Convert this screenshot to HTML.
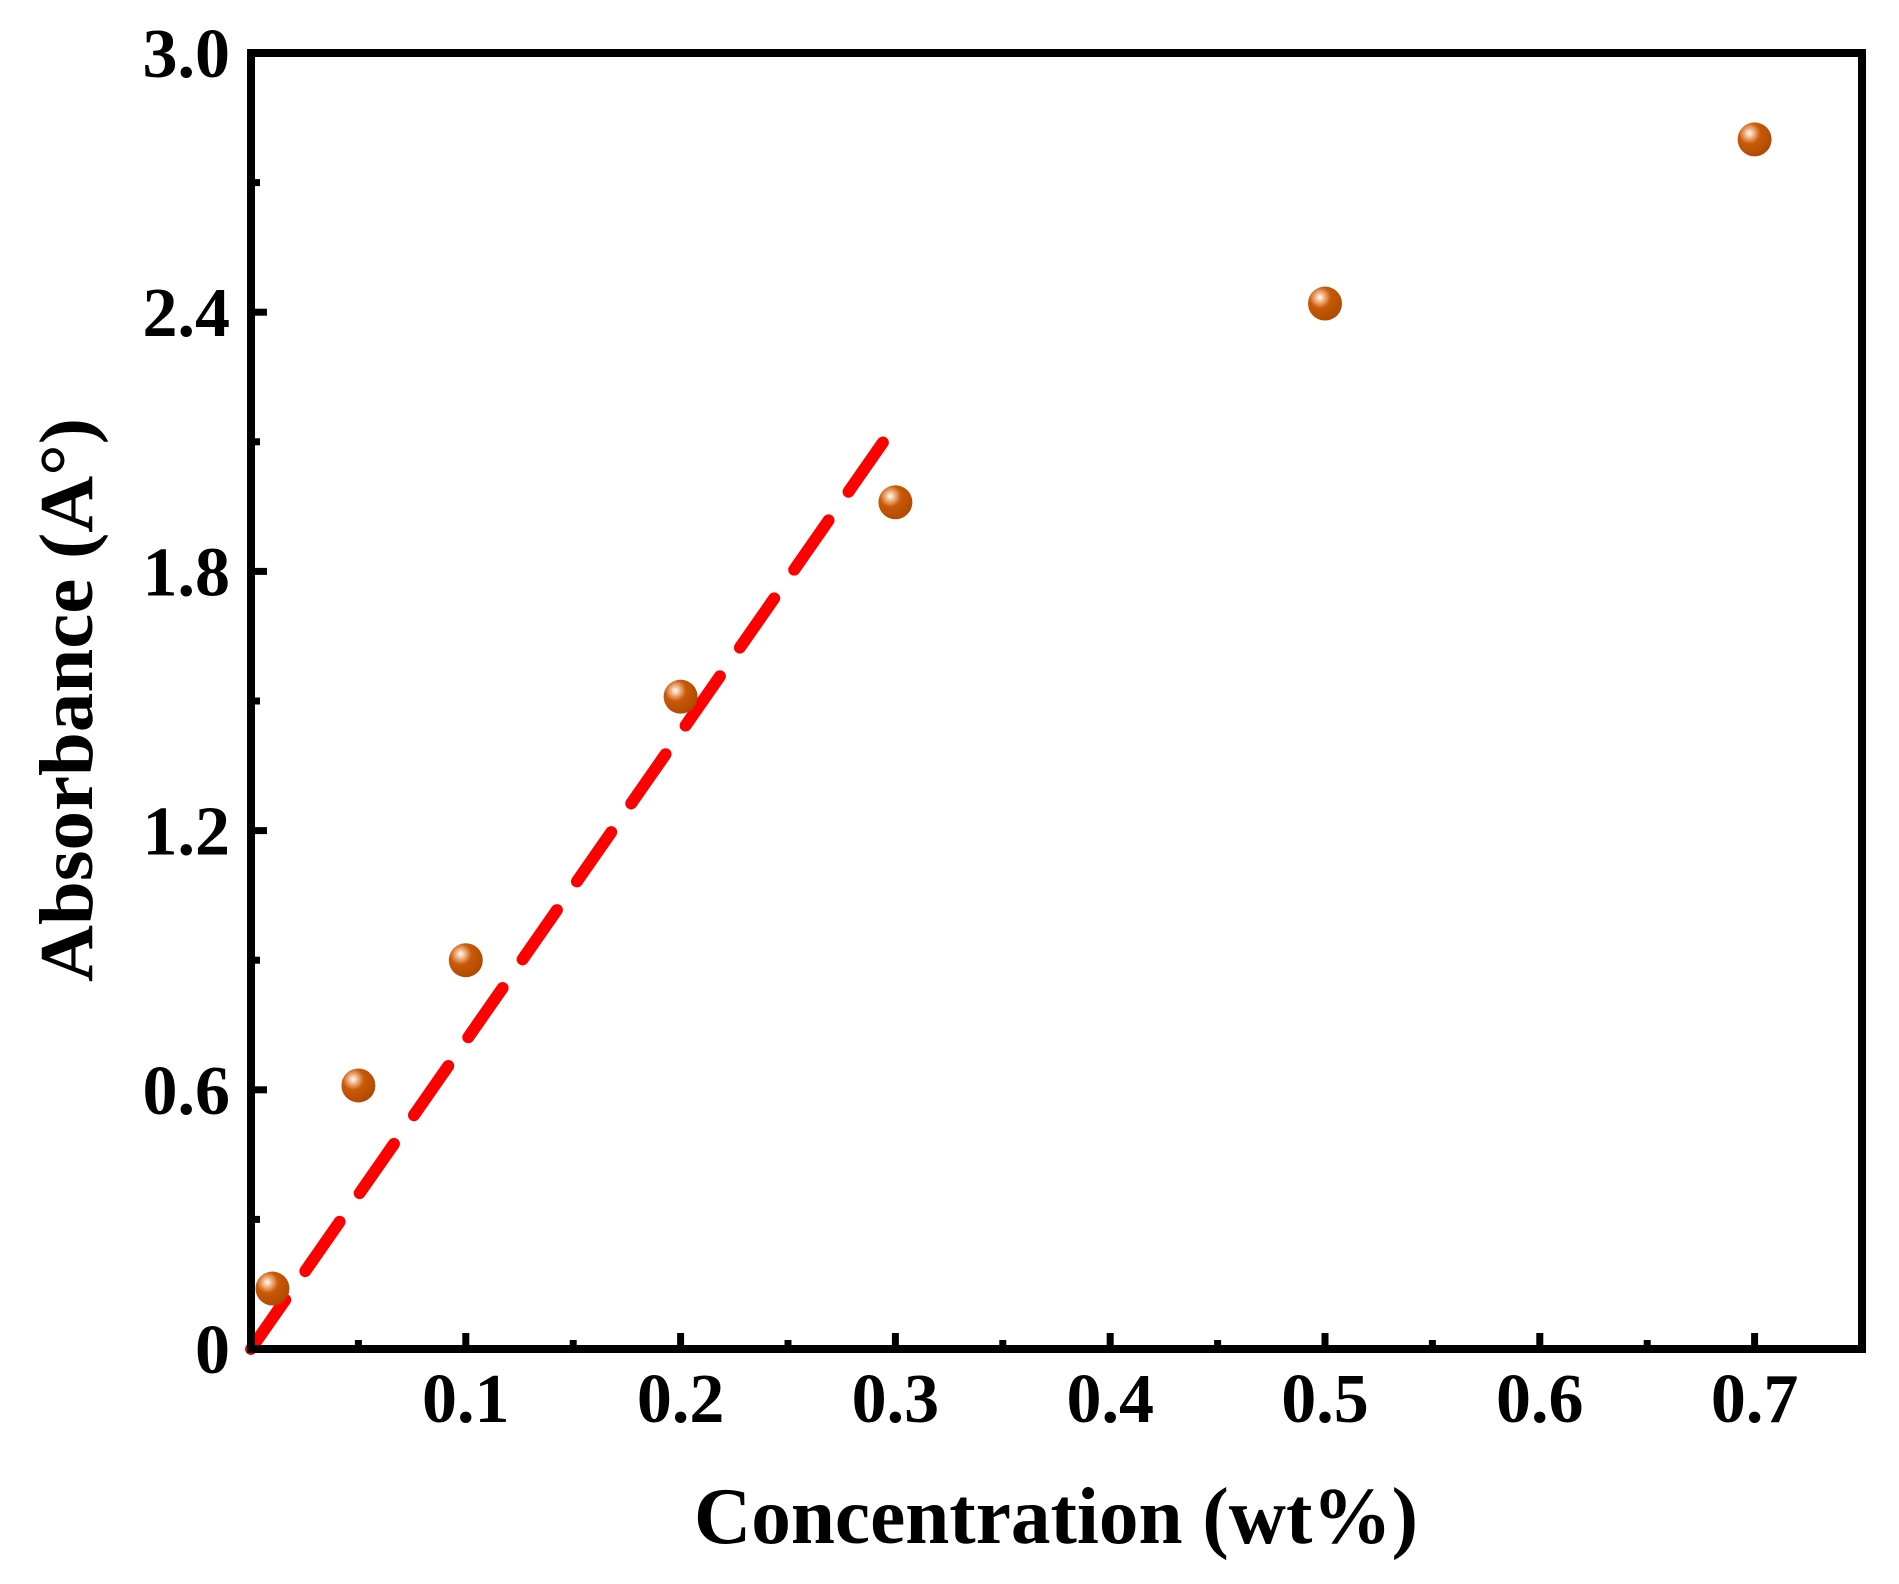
<!DOCTYPE html>
<html><head><meta charset="utf-8"><style>
html,body{margin:0;padding:0;background:#fff;}
svg{display:block;}
text{font-family:"Liberation Serif",serif;font-weight:bold;fill:#000;}
</style></head><body>
<svg id="chart" width="1899" height="1584" viewBox="0 0 1899 1584" xmlns="http://www.w3.org/2000/svg">
<defs>
<radialGradient id="ball" cx="0.35" cy="0.32" r="0.7">
<stop offset="0" stop-color="#ffffff"/>
<stop offset="0.2" stop-color="#f0b080"/>
<stop offset="0.45" stop-color="#c85a08"/>
<stop offset="1" stop-color="#b04a00"/>
</radialGradient>
</defs>
<g id="plot"></g>
</svg>
<script>
const concentrations = [0.01, 0.05, 0.1, 0.2, 0.3, 0.5, 0.7];
const absorbance = [0.14, 0.61, 0.90, 1.51, 1.96, 2.42, 2.80];
const fitX = [0, 0.3];
const fitY = [0, 2.14];
const xTicks = [0.1, 0.2, 0.3, 0.4, 0.5, 0.6, 0.7];
const xTickLabels = ["0.1","0.2","0.3","0.4","0.5","0.6","0.7"];
const yTicks = [0, 0.6, 1.2, 1.8, 2.4, 3.0];
const yTickLabels = ["0","0.6","1.2","1.8","2.4","3.0"];

const L=251, R=1862, T=53, B=1349;
const xMin=0, xMax=0.75, yMin=0, yMax=3.0;
const sx = v => L + (v - xMin) / (xMax - xMin) * (R - L);
const sy = v => B - (v - yMin) / (yMax - yMin) * (B - T);
const NS = "http://www.w3.org/2000/svg";
const g = document.getElementById('plot');
function mk(tag, attrs){ const e=document.createElementNS(NS,tag); for(const k in attrs) e.setAttribute(k,attrs[k]); g.appendChild(e); return e; }

for (let v=0.05; v<0.751; v+=0.05) {
  const major = Math.abs(Math.round(v*10)-v*10) < 1e-6;
  const x = sx(v);
  const t = mk('line',{x1:x,x2:x,y1:B,y2:B-(major?16:9),stroke:'#000','stroke-width':7});
  
  
}
for (let v=0.3; v<3.0; v+=0.3) {
  const major = Math.abs(Math.round(v/0.6)-v/0.6) < 1e-6;
  const y = sy(v);
  const t = mk('line',{x1:L,x2:L+(major?16:9),y1:y,y2:y,stroke:'#000','stroke-width':7});
  
  
}
xTicks.forEach((v,i)=>{
  const t = mk('text',{x:sx(v),y:1422,'text-anchor':'middle','font-size':70});
  t.textContent = xTickLabels[i];
  
  
});
yTicks.forEach((v,i)=>{
  const t = mk('text',{x:230,y:sy(v)+24,'text-anchor':'end','font-size':70});
  t.textContent = yTickLabels[i];
  
  
});

const fit = mk('line',{x1:sx(fitX[0]),y1:sy(fitY[0]),x2:sx(fitX[1]),y2:sy(fitY[1]),stroke:'#ff0000','stroke-width':12,'stroke-dasharray':'60 35','stroke-linecap':'round'});



concentrations.forEach((c,i)=>{
  const p = mk('circle',{cx:sx(c),cy:sy(absorbance[i]),r:17,fill:'url(#ball)'});
  
  
});

const fr = mk('rect',{x:L,y:T,width:R-L,height:B-T,fill:'none',stroke:'#000','stroke-width':8});



const xt = mk('text',{x:1056,y:1543,'text-anchor':'middle','font-size':80,textLength:724,lengthAdjust:'spacingAndGlyphs'});
xt.textContent = 'Concentration (wt%)';


const yt = mk('text',{x:0,y:0,'text-anchor':'middle','font-size':76,transform:'translate(92,700) rotate(-90)',textLength:564,lengthAdjust:'spacingAndGlyphs'});
yt.textContent = 'Absorbance (A°)';


</script>
</body></html>
